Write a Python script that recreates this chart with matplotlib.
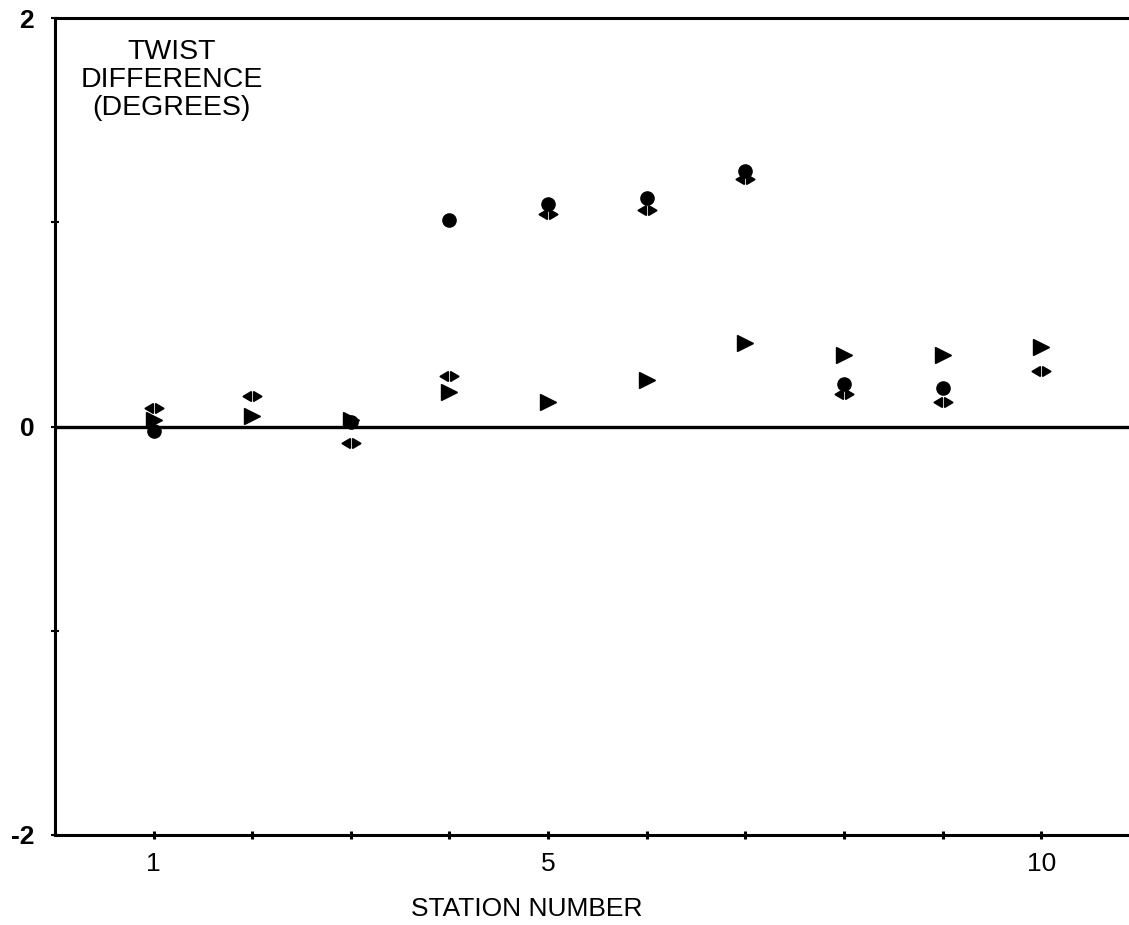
import matplotlib
matplotlib.use("Agg")
import matplotlib.pyplot as plt
import numpy as np
from matplotlib.path import Path

plt.rcParams['font.family'] = ['Liberation Sans', 'DejaVu Sans']

#values
stations = [1, 2, 3, 4, 5, 6, 7, 8, 9, 10]
tri_twist = [0.03, 0.05, 0.03, 0.17, 0.12, 0.23, 0.41, 0.35, 0.35, 0.39]
circ_stations = [1, 3, 4, 5, 6, 7, 8, 9]
circ_twist = [-0.02, 0.02, 1.01, 1.09, 1.12, 1.25, 0.21, 0.19]
split_twist = [0.09, 0.15, -0.08, 0.245, 1.04, 1.06, 1.21, 0.16, 0.12, 0.27]

x_ticks = [1, 2, 3, 4, 5, 6, 7, 8, 9, 10]
x_labels = ["1", "", "", "", "5", "", "", "", "", "10"]
y_ticks = [-2, -1, 0, 1, 2]
y_labels = ["-2", "", "0", "", "2"]

#two little arrowheads pointing apart, looks like the broken scan symbol
split_marker = Path(
    [(-1.0, 0.0), (-0.15, 0.5), (-0.15, -0.5), (-1.0, 0.0),
     (1.0, 0.0), (0.15, 0.5), (0.15, -0.5), (1.0, 0.0)],
    [Path.MOVETO, Path.LINETO, Path.LINETO, Path.CLOSEPOLY,
     Path.MOVETO, Path.LINETO, Path.LINETO, Path.CLOSEPOLY])

fig = plt.figure(figsize=(11.29, 9.25), dpi=100)
ax = fig.add_axes([0.0487, 0.0973, 0.9513, 0.8832])

ax.axhline(0, color="k", lw=2.4, zorder=1)
ax.plot(stations, tri_twist, ls="none", marker=">", ms=12, color="k", zorder=3)
ax.plot(circ_stations, circ_twist, ls="none", marker="o", ms=9.5, color="k", zorder=3)
ax.plot(stations, split_twist, ls="none", marker=split_marker, ms=13,
        color="k", mew=1.4, zorder=3)

ax.set_xlim(0, 10.89)
ax.set_ylim(-2, 2)
ax.set_xticks(x_ticks)
ax.set_xticklabels(x_labels, fontsize=19)
ax.set_yticks(y_ticks)
ax.set_yticklabels(y_labels, fontsize=19, fontweight="bold")
ax.tick_params(axis="x", direction="inout", length=6, width=2.2, pad=9)
ax.tick_params(axis="y", direction="inout", length=6, width=1.5, pad=12)

ax.spines["right"].set_visible(False)
for s in ["left", "bottom", "top"]:
    ax.spines[s].set_linewidth(2.2)

fig.text(0.152, 0.958, "TWIST\nDIFFERENCE\n(DEGREES)", ha="center", va="top",
         fontsize=20.5, linespacing=1.1)
fig.text(0.467, 0.017, "STATION NUMBER", ha="center", va="center", fontsize=19)

fig.savefig("out.png", dpi=100)
